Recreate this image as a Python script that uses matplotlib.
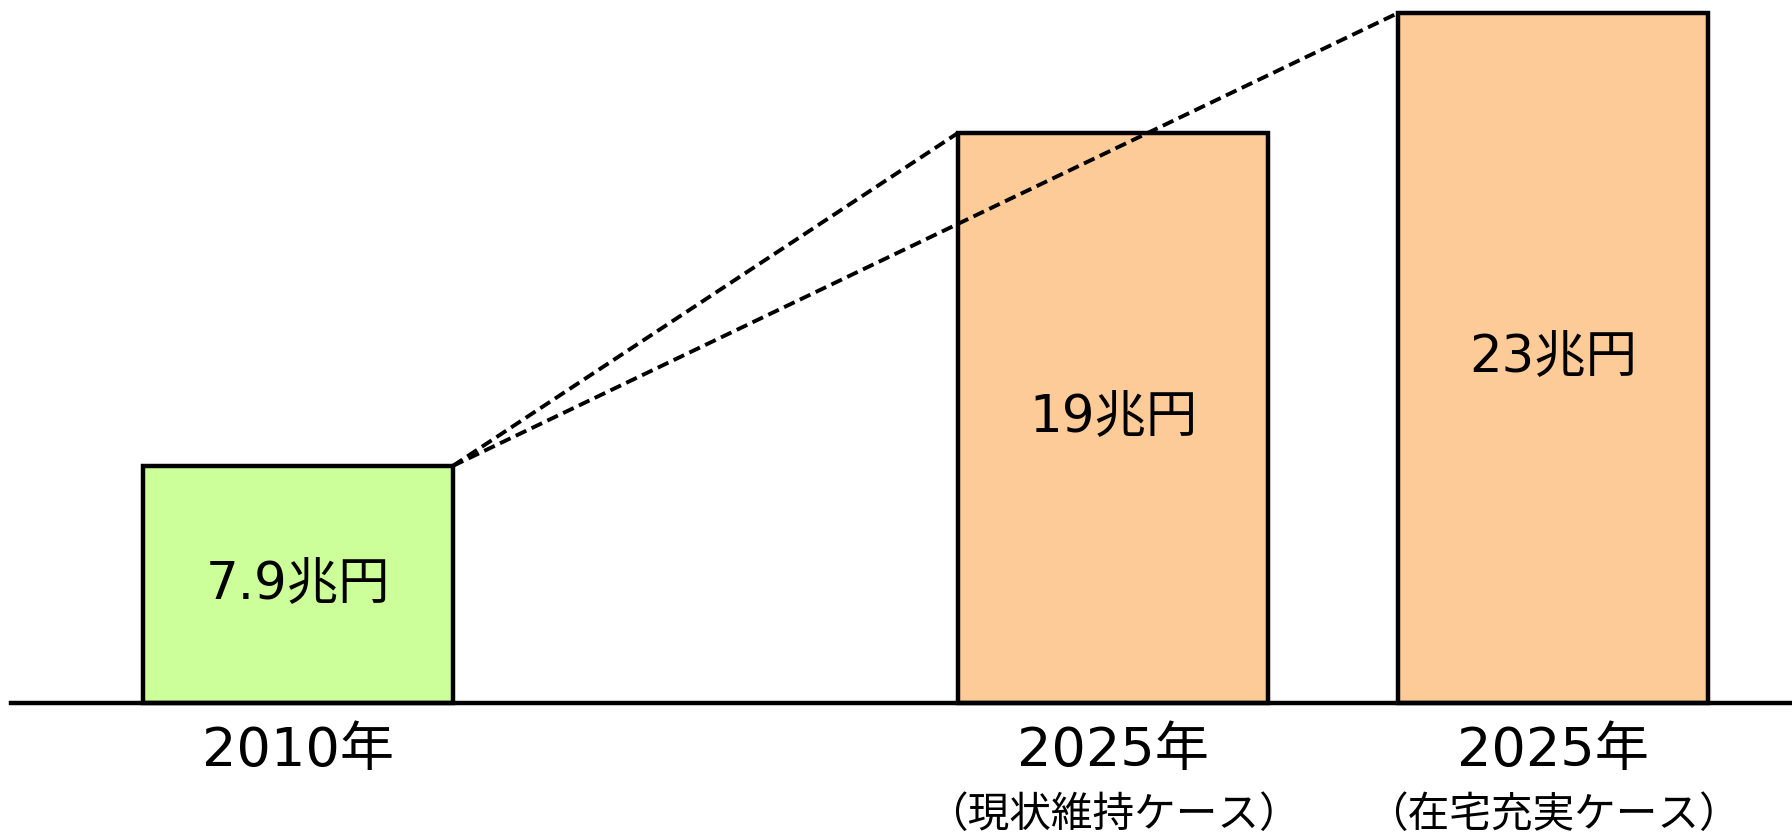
import matplotlib
matplotlib.use("Agg")
import matplotlib.pyplot as plt

plt.rcParams['font.family'] = ['DejaVu Sans', 'Noto Sans CJK JP']

values = [7.9, 19, 23]
value_labels = ['7.9兆円', '19兆円', '23兆円']
year_labels = ['2010年', '2025年', '2025年']
case_labels = ['', '（現状維持ケース）', '（在宅充実ケース）']
colors = ['#ccff99', '#fccb98', '#fccb98']

xpos = [0, 2.63, 4.05]
width = 1.0

fig = plt.figure(figsize=(17.92, 8.39), dpi=100)
ax = fig.add_axes([0, 0, 1, 1])
ax.set_xlim(-0.96, 4.82)
ax.set_ylim(-4.53, 23.43)
ax.axis('off')

bars = ax.bar(xpos, values, width=width, color=colors, edgecolor='black',
              linewidth=3.2, zorder=2)

# baseline
ax.axhline(0, xmin=11 / 1792, xmax=1, color='black', linewidth=3.2, zorder=3)

# dashed connectors from first bar to the others
x0 = xpos[0] + width / 2
for i in (1, 2):
    ax.plot([x0, xpos[i] - width / 2], [values[0], values[i]], color='black',
            linewidth=2.8, linestyle=(0, (3, 1.5)), zorder=4)

for x, v, lab in zip(xpos, values, value_labels):
    ax.text(x, v / 2, lab, ha='center', va='center', fontsize=37, zorder=5)

for x, yl, cl in zip(xpos, year_labels, case_labels):
    ax.text(x, -1.6, yl, ha='center', va='center', fontsize=39)
    if cl:
        ax.text(x, -3.75, cl, ha='center', va='center', fontsize=30,
                family=['Noto Sans CJK JP', 'DejaVu Sans'])

fig.savefig('out.png', dpi=100)
